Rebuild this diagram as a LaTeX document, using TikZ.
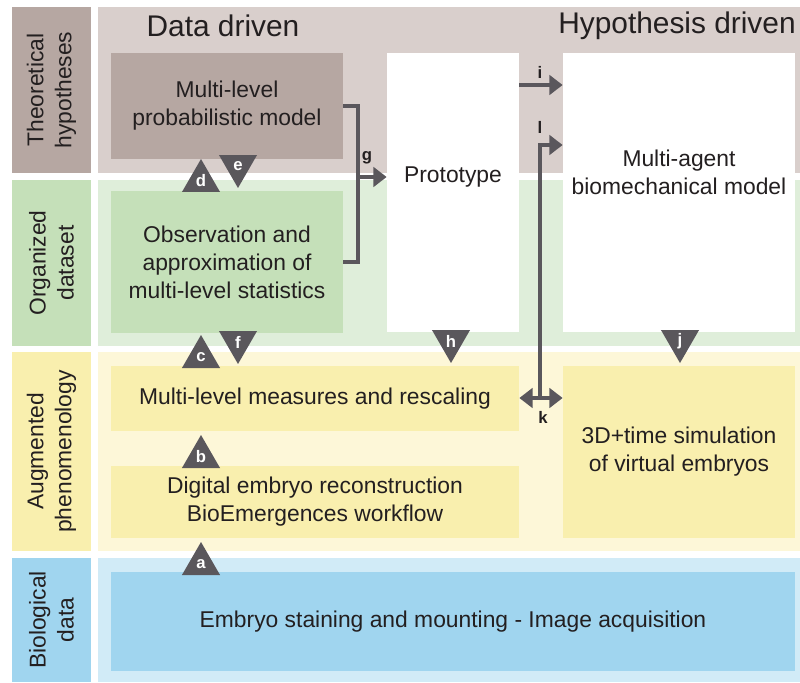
\documentclass[tikz,border=0pt]{standalone}
\usepackage{fontspec}
\setmainfont{Liberation Sans}
\usepackage{tikz}
\usetikzlibrary{fit, shapes.geometric, arrows.meta}

\definecolor{hypdark}{HTML}{B6A7A2}
\definecolor{hyplight}{HTML}{D9CFCC}
\definecolor{orgdark}{HTML}{C5E0B9}
\definecolor{orglight}{HTML}{DFEEDA}
\definecolor{augdark}{HTML}{F9EFAE}
\definecolor{auglight}{HTML}{FDF7D8}
\definecolor{biodark}{HTML}{A0D5EF}
\definecolor{biolight}{HTML}{D1EBF7}
\definecolor{arrowgray}{HTML}{5A575C}
\definecolor{textgray}{HTML}{231F20}

\tikzset{
  box/.style={inner sep=0pt, align=center, text=textgray, font=\fontsize{13}{15.9}\selectfont},
  tri/.style={regular polygon, regular polygon sides=3, minimum size=0.88cm, inner sep=0pt,
              fill=arrowgray, text=white, font=\fontsize{9.5}{10}\bfseries\selectfont},
  triup/.style={tri},
  tridown/.style={tri, shape border rotate=180},
  conn/.style={draw=arrowgray, line width=2.2pt},
  lbl/.style={text=textgray, font=\fontsize{9.5}{10}\bfseries\selectfont, inner sep=1pt}
}

\begin{document}
\begin{tikzpicture}[x=0.02cm, y=-0.02cm, >={Triangle[length=7.5pt, width=11pt]}]
    \useasboundingbox (0,0) rectangle (800,682);
    % Bands
    \node[fit={(98,7) (800,173)}, inner sep=0pt, fill=hyplight] (bandhyp) {};
    \node[fit={(98,180) (800,346)}, inner sep=0pt, fill=orglight] (bandorg) {};
    \node[fit={(98,352) (800,551)}, inner sep=0pt, fill=auglight] (bandaug) {};
    \node[fit={(98,558) (800,682)}, inner sep=0pt, fill=biolight] (bandbio) {};
    % Side labels
    \node[fit={(12,7) (91,173)}, inner sep=0pt, fill=hypdark] (sidehyp) {};
    \node[box, rotate=90] at (sidehyp.center) {Theoretical\\hypotheses};
    \node[fit={(12,180) (91,346)}, inner sep=0pt, fill=orgdark] (sideorg) {};
    \node[box, rotate=90] at (sideorg.center) {Organized\\dataset};
    \node[fit={(12,352) (91,551)}, inner sep=0pt, fill=augdark] (sideaug) {};
    \node[box, rotate=90] at (sideaug.center) {Augmented\\phenomenology};
    \node[fit={(12,558) (91,682)}, inner sep=0pt, fill=biodark] (sidebio) {};
    \node[box, rotate=90] at (sidebio.center) {Biological\\data};
    % Column titles
    \node[box, font=\fontsize{17}{20}\selectfont] (datadriven) at (223,26) {Data driven};
    \node[box, font=\fontsize{17}{20}\selectfont] (hypdriven) at (677,26) {Hypothesis driven};
    % Boxes
    \node[box, fit={(111,53) (343,159)}, fill=hypdark] (model) {};
    \node[box] at (model.center) {Multi-level\\probabilistic model};
    \node[box, fit={(111,191) (343,333)}, fill=orgdark] (obs) {};
    \node[box] at (obs.center) {Observation and\\approximation of\\multi-level statistics};
    \node[box, fit={(387,53) (519,332)}, fill=white] (proto) {};
    \node[box] at (proto.center |- 0,177) {Prototype};
    \node[box, fit={(563,53) (795,332)}, fill=white] (agent) {};
    \node[box] at (agent.center |- 0,172) {Multi-agent\\biomechanical model};
    \node[box, fit={(111,366) (519,431)}, fill=augdark] (measures) {};
    \node[box] at (measures.center) {Multi-level measures and rescaling};
    \node[box, fit={(111,466) (519,538)}, fill=augdark] (digital) {};
    \node[box] at (digital.center) {Digital embryo reconstruction\\BioEmergences workflow};
    \node[box, fit={(563,366) (795,538)}, fill=augdark] (sim) {};
    \node[box] at (sim.center) {3D+time simulation\\of virtual embryos};
    \node[box, fit={(111,572) (795,671)}, fill=biodark] (staining) {};
    \node[box] at (staining.center) {Embryo staining and mounting - Image acquisition};
    % Triangles
    \node[triup] (tria) at (201,564) {a};
    \node[triup] (trib) at (201,457) {b};
    \node[triup] (tric) at (201,357) {c};
    \node[triup] (trid) at (201,181) {d};
    \node[tridown] (trie) at (238,166) {e};
    \node[tridown] (trif) at (238,342) {f};
    \node[tridown] (trih) at (451,341) {h};
    \node[tridown] (trij) at (680,341) {j};
    % Arrow g
    \coordinate (gmid) at (358,177);
    \draw[conn] (model.east) -- ++(15,0) |- (obs.east);
    \draw[conn, ->] (gmid) -- (gmid -| proto.west);
    \node[lbl] (lblg) at (367,158) {g};
    % Arrow i
    \coordinate (iorig) at (519,85);
    \draw[conn, ->] (iorig) -- (iorig -| agent.west);
    \node[lbl] (lbli) at (540,72) {i};
    % Arrows k and l
    \coordinate (kmid) at (540,398);
    \coordinate (lturn) at (540,145);
    \draw[conn, <->] (measures.east |- kmid) -- (sim.west |- kmid);
    \draw[conn, ->] (kmid) -- (lturn) -- (lturn -| agent.west);
    \node[lbl] (lbll) at (540,127) {l};
    \node[lbl] (lblk) at (543,417) {k};
\end{tikzpicture}
\end{document}
